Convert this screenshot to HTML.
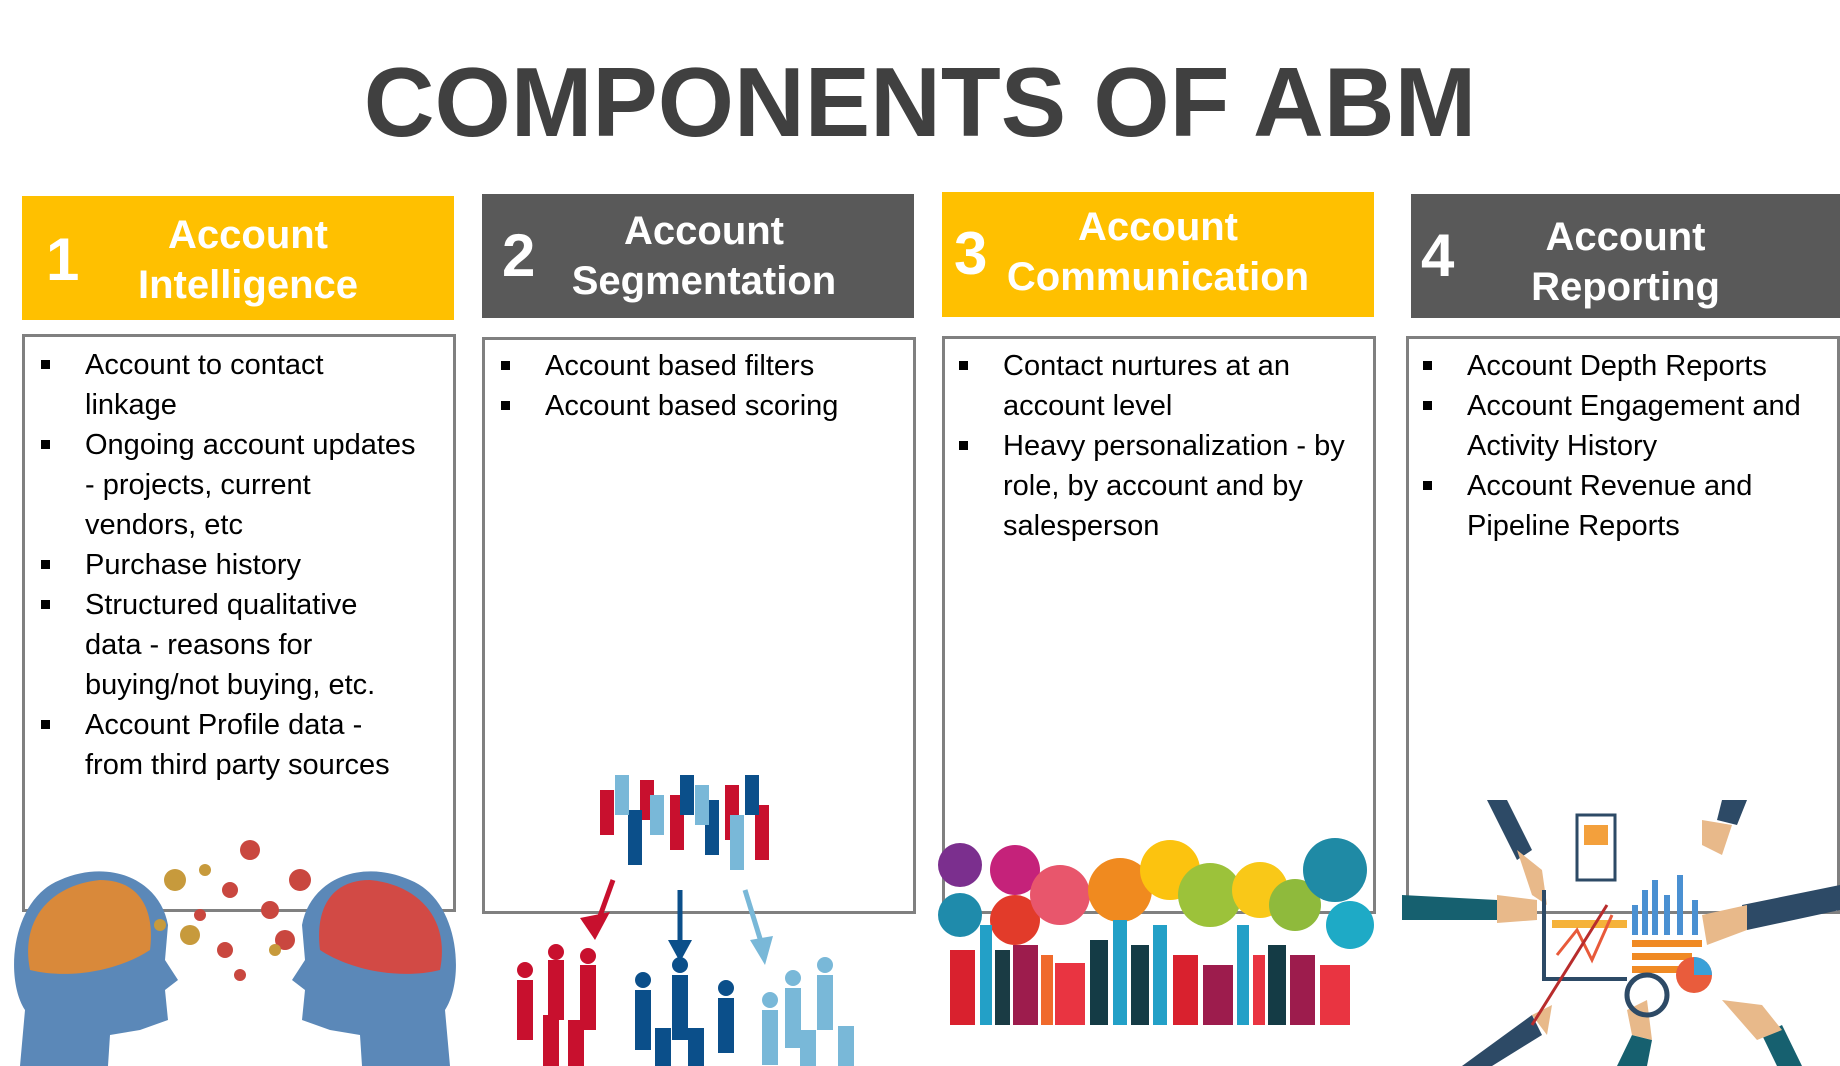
<!DOCTYPE html>
<html><head><meta charset="utf-8">
<style>
body{margin:0;width:1840px;height:1066px;background:#fff;position:relative;overflow:hidden;font-family:"Liberation Sans",sans-serif}
.t{position:absolute;left:0;width:1840px;top:42px;text-align:center;font-weight:bold;font-size:98px;color:#404040;line-height:120px}
.h{position:absolute;color:#fff;font-weight:bold}
.h .n{position:absolute;font-size:60px;line-height:60px}
.h .l{position:absolute;left:0;right:0;text-align:center;font-size:40px;line-height:50px}
.b{position:absolute;border:3px solid #808080;box-sizing:border-box;background:#fff}
ul{list-style:none;margin:0;padding:0;position:absolute;left:0;right:0}
li{position:relative;padding-left:56px;font-size:29px;line-height:40px;color:#000}
li:before{content:"";position:absolute;left:12px;top:15px;width:9px;height:9px;background:#000}
svg{position:absolute}
</style></head><body>
<div class="t">COMPONENTS OF ABM</div>

<div class="h" style="left:22px;top:196px;width:432px;height:124px;background:#FFC000">
<div class="n" style="left:24px;top:34px">1</div>
<div class="l" style="top:14px;left:20px">Account<br>Intelligence</div></div>
<div class="h" style="left:482px;top:194px;width:432px;height:124px;background:#595959">
<div class="n" style="left:20px;top:32px">2</div>
<div class="l" style="top:12px;left:12px">Account<br>Segmentation</div></div>
<div class="h" style="left:942px;top:192px;width:432px;height:125px;background:#FFC000">
<div class="n" style="left:12px;top:32px">3</div>
<div class="l" style="top:10px;left:0px">Account<br>Communication</div></div>
<div class="h" style="left:1411px;top:194px;width:429px;height:124px;background:#595959">
<div class="n" style="left:10px;top:32px">4</div>
<div class="l" style="top:18px;left:0px">Account<br>Reporting</div></div>

<div class="b" style="left:22px;top:334px;width:434px;height:578px">
<ul style="top:8px;left:4px"><li>Account to contact<br>linkage</li><li>Ongoing account updates<br>- projects, current<br>vendors, etc</li><li>Purchase history</li><li>Structured qualitative<br>data - reasons for<br>buying/not buying, etc.</li><li>Account Profile data -<br>from third party sources</li></ul></div>
<div class="b" style="left:482px;top:337px;width:434px;height:577px">
<ul style="top:6px;left:4px"><li>Account based filters</li><li>Account based scoring</li></ul></div>
<div class="b" style="left:942px;top:336px;width:434px;height:578px">
<ul style="top:7px;left:2px"><li>Contact nurtures at an<br>account level</li><li>Heavy personalization - by<br>role, by account and by<br>salesperson</li></ul></div>
<div class="b" style="left:1406px;top:336px;width:434px;height:578px">
<ul style="top:7px;left:2px"><li>Account Depth Reports</li><li>Account Engagement and<br>Activity History</li><li>Account Revenue and<br>Pipeline Reports</li></ul></div>

<!-- heads -->
<svg style="left:0;top:830px" width="470" height="236" viewBox="0 0 470 236">
<path d="M20 236 L25 180 C5 150 10 70 60 50 C110 28 160 50 168 95 L165 130 L178 150 L165 160 L168 190 L140 200 L110 205 L108 236Z" fill="#5b88b8"/>
<path d="M30 140 C20 90 50 55 100 50 C140 50 155 80 150 120 C120 140 70 150 30 140Z" fill="#d9893a"/>
<path d="M450 236 L445 180 C465 150 460 70 410 50 C360 28 310 50 302 95 L305 130 L292 150 L305 160 L302 190 L330 200 L360 205 L362 236Z" fill="#5b88b8"/>
<path d="M440 140 C450 90 420 55 370 50 C330 50 315 80 320 120 C350 140 400 150 440 140Z" fill="#d24a45"/>
<g fill="#c9473f"><circle cx="250" cy="20" r="10"/><circle cx="230" cy="60" r="8"/><circle cx="300" cy="50" r="11"/><circle cx="270" cy="80" r="9"/><circle cx="225" cy="120" r="8"/><circle cx="285" cy="110" r="10"/><circle cx="240" cy="145" r="6"/><circle cx="200" cy="85" r="6"/></g>
<g fill="#c79a3c"><circle cx="175" cy="50" r="11"/><circle cx="205" cy="40" r="6"/><circle cx="190" cy="105" r="10"/><circle cx="160" cy="95" r="6"/><circle cx="275" cy="120" r="6"/></g>
</svg>

<!-- people -->
<svg style="left:500px;top:770px" width="400" height="296" viewBox="0 0 400 296">
<g fill="#c8102e"><rect x="100" y="20" width="14" height="45"/><rect x="170" y="25" width="14" height="55"/><rect x="225" y="15" width="14" height="55"/><rect x="255" y="35" width="14" height="55"/><rect x="140" y="10" width="14" height="40"/></g>
<g fill="#0b4f8a"><rect x="128" y="40" width="14" height="55"/><rect x="205" y="30" width="14" height="55"/><rect x="180" y="5" width="14" height="40"/><rect x="245" y="5" width="14" height="40"/></g>
<g fill="#79b8d8"><rect x="115" y="5" width="14" height="40"/><rect x="150" y="25" width="14" height="40"/><rect x="230" y="45" width="14" height="55"/><rect x="195" y="15" width="14" height="40"/></g>
<path d="M113 110 L95 160" stroke="#c8102e" stroke-width="5"/><path d="M80 148 L95 170 L110 142Z" fill="#c8102e"/>
<path d="M180 120 L180 175" stroke="#0b4f8a" stroke-width="5"/><path d="M168 170 L180 192 L192 170Z" fill="#0b4f8a"/>
<path d="M245 120 L262 175" stroke="#79b8d8" stroke-width="5"/><path d="M250 170 L265 195 L273 166Z" fill="#79b8d8"/>
<g fill="#c8102e"><rect x="17" y="210" width="16" height="60"/><rect x="48" y="190" width="16" height="60"/><rect x="80" y="195" width="16" height="65"/><rect x="43" y="245" width="16" height="60"/><rect x="68" y="250" width="16" height="55"/><circle cx="25" cy="200" r="8"/><circle cx="56" cy="182" r="8"/><circle cx="88" cy="186" r="8"/></g>
<g fill="#0b4f8a"><rect x="135" y="220" width="16" height="60"/><rect x="172" y="205" width="16" height="65"/><rect x="218" y="228" width="16" height="55"/><rect x="155" y="258" width="16" height="38"/><rect x="188" y="258" width="16" height="38"/><circle cx="143" cy="210" r="8"/><circle cx="180" cy="195" r="8"/><circle cx="226" cy="218" r="8"/></g>
<g fill="#79b8d8"><rect x="262" y="240" width="16" height="55"/><rect x="285" y="218" width="16" height="60"/><rect x="317" y="205" width="16" height="55"/><rect x="300" y="260" width="16" height="36"/><rect x="338" y="256" width="16" height="40"/><circle cx="270" cy="230" r="8"/><circle cx="293" cy="208" r="8"/><circle cx="325" cy="195" r="8"/></g>
</svg>

<!-- communication -->
<svg style="left:935px;top:835px" width="445" height="200" viewBox="0 0 445 200">
<circle cx="25" cy="30" r="22" fill="#7b2f8e"/><circle cx="80" cy="35" r="25" fill="#c5227a"/><circle cx="25" cy="80" r="22" fill="#1f8bab"/>
<circle cx="80" cy="85" r="25" fill="#e23b2a"/><circle cx="125" cy="60" r="30" fill="#e8566c"/><circle cx="185" cy="55" r="32" fill="#f08a1f"/>
<circle cx="235" cy="35" r="30" fill="#fcc30f"/><circle cx="275" cy="60" r="32" fill="#9cc23a"/><circle cx="325" cy="55" r="28" fill="#f9c818"/>
<circle cx="360" cy="70" r="26" fill="#8fba3c"/><circle cx="400" cy="35" r="32" fill="#1f8aa5"/><circle cx="415" cy="90" r="24" fill="#1eaac6"/>
<g><rect x="15" y="115" width="25" height="75" fill="#d9212e"/><rect x="45" y="90" width="12" height="100" fill="#23a0c7"/><rect x="60" y="115" width="15" height="75" fill="#1a3b44"/><rect x="78" y="110" width="25" height="80" fill="#9d1c4d"/><rect x="106" y="120" width="12" height="70" fill="#f06a2c"/><rect x="120" y="128" width="30" height="62" fill="#e93441"/><rect x="155" y="105" width="18" height="85" fill="#143b45"/><rect x="178" y="85" width="14" height="105" fill="#23a0c7"/><rect x="196" y="110" width="18" height="80" fill="#143b45"/><rect x="218" y="90" width="14" height="100" fill="#23a0c7"/><rect x="238" y="120" width="25" height="70" fill="#d9212e"/><rect x="268" y="130" width="30" height="60" fill="#9d1c4d"/><rect x="302" y="90" width="12" height="100" fill="#23a0c7"/><rect x="318" y="120" width="12" height="70" fill="#e93441"/><rect x="333" y="110" width="18" height="80" fill="#143b45"/><rect x="355" y="120" width="25" height="70" fill="#9d1c4d"/><rect x="385" y="130" width="30" height="60" fill="#e93441"/></g>
</svg>

<!-- reporting -->
<svg style="left:1402px;top:795px" width="438" height="271" viewBox="0 0 438 271">
<path d="M85 5 L105 5 L130 55 L115 65Z" fill="#2d4a66"/><path d="M115 55 L140 75 L145 110 L130 100Z" fill="#e8b98a"/>
<path d="M0 100 L95 105 L95 125 L0 125Z" fill="#16606f"/><path d="M95 100 L135 105 L135 125 L95 128Z" fill="#e8b98a"/>
<path d="M320 5 L345 5 L335 30 L315 25Z" fill="#2d4a66"/><path d="M300 25 L330 30 L320 60 L300 50Z" fill="#e8b98a"/>
<path d="M340 110 L438 90 L438 115 L345 135Z" fill="#2d4a66"/><path d="M300 120 L345 110 L345 135 L305 150Z" fill="#e8b98a"/>
<path d="M60 271 L130 220 L140 240 L90 271Z" fill="#2d4a66"/><path d="M130 220 L150 210 L145 240Z" fill="#e8b98a"/>
<path d="M215 271 L230 240 L250 245 L245 271Z" fill="#16606f"/><path d="M225 215 L245 205 L250 245 L230 240Z" fill="#e8b98a"/>
<path d="M360 240 L380 230 L400 271 L375 271Z" fill="#16606f"/><path d="M320 205 L360 210 L380 235 L355 245Z" fill="#e8b98a"/>
<rect x="175" y="20" width="38" height="65" fill="#fff" stroke="#2d4a66" stroke-width="3"/><rect x="182" y="30" width="24" height="20" fill="#f3a03c"/>
<rect x="140" y="95" width="4" height="90" fill="#2d4a66"/><rect x="140" y="182" width="85" height="4" fill="#2d4a66"/>
<rect x="150" y="125" width="75" height="8" fill="#f5b23a"/><path d="M155 160 L175 135 L190 165 L210 120" stroke="#e85a3a" stroke-width="3" fill="none"/>
<g fill="#4a90d2"><rect x="230" y="110" width="6" height="30"/><rect x="240" y="95" width="6" height="45"/><rect x="250" y="85" width="6" height="55"/><rect x="262" y="100" width="6" height="40"/><rect x="275" y="80" width="6" height="60"/><rect x="290" y="105" width="6" height="35"/></g>
<g fill="#f08a24"><rect x="230" y="145" width="70" height="7"/><rect x="230" y="158" width="60" height="7"/><rect x="230" y="171" width="75" height="7"/></g>
<circle cx="245" cy="200" r="20" fill="none" stroke="#2d4a66" stroke-width="5"/><circle cx="292" cy="180" r="18" fill="#e95c3c"/><path d="M292 180 L292 162 A18 18 0 0 1 310 180Z" fill="#3aa0d8"/>
<path d="M130 230 L205 110" stroke="#b82c2c" stroke-width="3"/>
</svg>
</body></html>
